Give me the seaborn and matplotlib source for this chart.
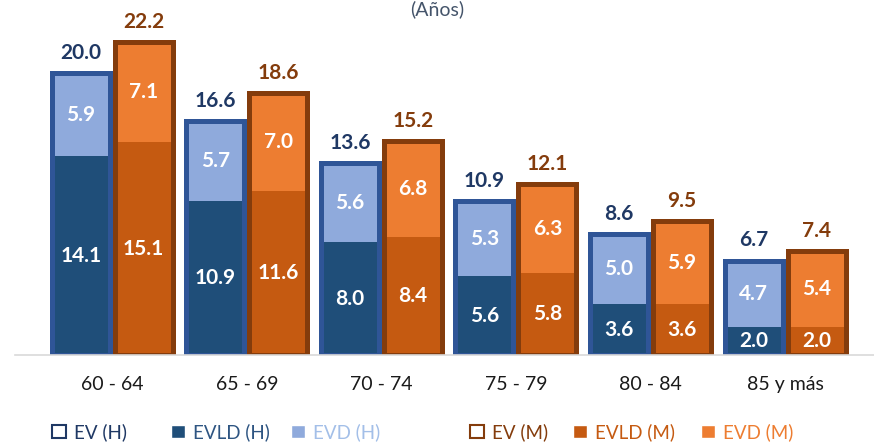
import matplotlib.pyplot as plt
import pandas as pd
import seaborn as sns
from matplotlib.patches import Patch

# Esperanza de vida a partir de los 60 años, por sexo (H/M)
grupos = ["60 - 64", "65 - 69", "70 - 74", "75 - 79", "80 - 84", "85 y más"]
ev_h = [20.0, 16.6, 13.6, 10.9, 8.6, 6.7]
evld_h = [14.1, 10.9, 8.0, 5.6, 3.6, 2.0]
evd_h = [5.9, 5.7, 5.6, 5.3, 5.0, 4.7]
ev_m = [22.2, 18.6, 15.2, 12.1, 9.5, 7.4]
evld_m = [15.1, 11.6, 8.4, 5.8, 3.6, 2.0]
evd_m = [7.1, 7.0, 6.8, 6.3, 5.9, 5.4]

df = pd.concat([
    pd.DataFrame({"grupo": grupos, "sexo": "H", "ev": ev_h, "evld": evld_h, "evd": evd_h}),
    pd.DataFrame({"grupo": grupos, "sexo": "M", "ev": ev_m, "evld": evld_m, "evd": evd_m}),
], ignore_index=True)

sns.set_theme(style="white")
plt.rcParams["font.family"] = ["Lato", "DejaVu Sans"]

fig = plt.figure(figsize=(8.74, 4.45), dpi=100)
ax = fig.add_axes([15 / 874, 90 / 445, 859 / 874, 352.5 / 445])

common = dict(data=df, x="grupo", hue="sexo", hue_order=["H", "M"], order=grupos,
              width=0.936, gap=0.08, errorbar=None, legend=False, ax=ax)
# barra completa en color EVD, luego EVLD encima desde cero, luego contorno EV
sns.barplot(y="ev", palette={"H": "#8FAADC", "M": "#ED7D31"}, saturation=1,
            linewidth=0, **common)
sns.barplot(y="evld", palette={"H": "#1F4E79", "M": "#C55A11"}, saturation=1,
            linewidth=0, **common)
sns.barplot(y="ev", palette={"H": "#2F5597", "M": "#843C0C"}, saturation=1,
            fill=False, linewidth=3.6, **common)

ax.set_xlim(-0.722, 5.66)
ax.set_ylim(0, 25)

top_colors = {"H": "#1F3864", "M": "#843C0C"}
for k, sexo in enumerate(["H", "M"]):
    sub = df[df["sexo"] == sexo].set_index("grupo").loc[grupos]
    bars = ax.containers[4 + k]
    for bar, ev, evld, evd in zip(bars, sub["ev"], sub["evld"], sub["evd"]):
        cx = bar.get_x() + bar.get_width() / 2
        ax.annotate(f"{ev:.1f}", (cx, ev), xytext=(0, 14.5), textcoords="offset points",
                    ha="center", va="center", fontsize=15, fontweight="bold",
                    color=top_colors[sexo])
        ax.text(cx, evld / 2, f"{evld:.1f}", ha="center", va="center",
                fontsize=15, fontweight="bold", color="white")
        ax.text(cx, evld + evd / 2, f"{evd:.1f}", ha="center", va="center",
                fontsize=15, fontweight="bold", color="white")

sns.despine(ax=ax, left=True)
ax.spines["bottom"].set_color("#D9D9D9")
ax.spines["bottom"].set_linewidth(1.2)
ax.set_yticks([])
ax.set_xlabel("")
ax.set_ylabel("")
ax.tick_params(axis="x", length=0, pad=15, labelsize=14, labelcolor="#1a1a1a")

fig.text(437 / 874, 1 - 9 / 445, "(Años)", ha="center", va="center",
         fontsize=14, color="#44546A")

# leyenda: una entrada por posición
entradas = [
    ("EV (H)", Patch(facecolor="white", edgecolor="#1F3864", linewidth=1.5), "#1F3864", 52),
    ("EVLD (H)", Patch(facecolor="#1F4E79"), "#2E5582", 171),
    ("EVD (H)", Patch(facecolor="#8FAADC"), "#A3BFE8", 291),
    ("EV (M)", Patch(facecolor="white", edgecolor="#843C0C", linewidth=1.5), "#843C0C", 470),
    ("EVLD (M)", Patch(facecolor="#C55A11"), "#C55A11", 573),
    ("EVD (M)", Patch(facecolor="#ED7D31"), "#ED7D31", 701),
]
for texto, handle, color, px in entradas:
    fig.legend(handles=[handle], labels=[texto], loc="center left",
               bbox_to_anchor=(px / 874, 1 - 432 / 445), frameon=False,
               fontsize=13.5, handlelength=0.75, handleheight=0.75,
               handletextpad=0.4, borderpad=0, borderaxespad=0, labelcolor=color)

fig.savefig("out.png", dpi=100)
plt.close(fig)
